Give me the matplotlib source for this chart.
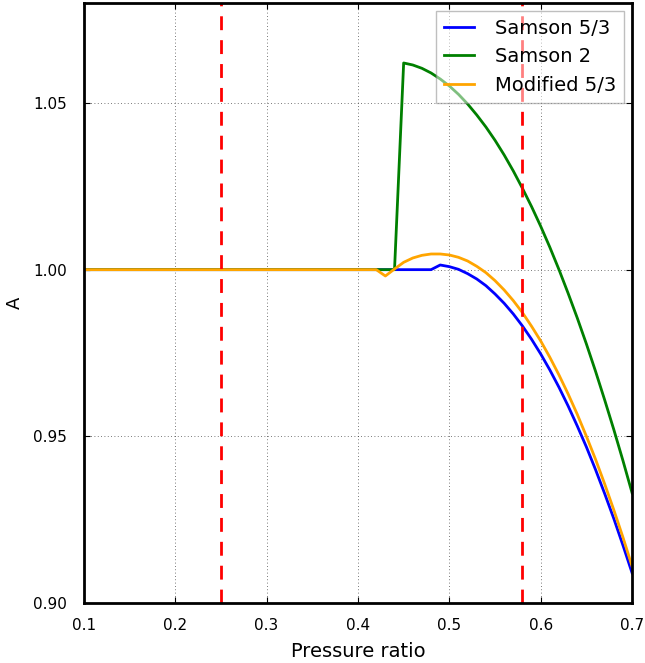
import matplotlib
matplotlib.use("Agg")
import matplotlib.pyplot as plt

# pressure ratio samples (flat region before 0.42 needs no extra points)
pressure_ratio = [0.10, 0.42, 0.43, 0.44, 0.45, 0.46, 0.47, 0.48, 0.49, 0.50,
                  0.51, 0.52, 0.53, 0.54, 0.55, 0.56, 0.57, 0.58, 0.59, 0.60,
                  0.61, 0.62, 0.63, 0.64, 0.65, 0.66, 0.67, 0.68, 0.69, 0.70]

samson_53 = [1.0000, 1.0000, 1.0000, 1.0000, 1.0000, 1.0000, 1.0000, 1.0000, 1.0014, 1.0009,
             1.0001, 0.9988, 0.9972, 0.9952, 0.9927, 0.9899, 0.9867, 0.9831, 0.9791, 0.9747,
             0.9699, 0.9647, 0.9591, 0.9531, 0.9468, 0.9400, 0.9328, 0.9253, 0.9173, 0.9090]

samson_2 = [1.0000, 1.0000, 1.0000, 1.0000, 1.0620, 1.0614, 1.0604, 1.0590, 1.0572, 1.0551,
            1.0526, 1.0497, 1.0464, 1.0428, 1.0388, 1.0344, 1.0296, 1.0244, 1.0189, 1.0130,
            1.0067, 1.0000, 0.9929, 0.9855, 0.9777, 0.9695, 0.9609, 0.9520, 0.9427, 0.9330]

modified_53 = [1.0000, 1.0000, 0.9981, 1.0002, 1.0022, 1.0035, 1.0043, 1.0047, 1.0047, 1.0044,
               1.0037, 1.0026, 1.0010, 0.9991, 0.9967, 0.9939, 0.9907, 0.9871, 0.9830, 0.9786,
               0.9737, 0.9684, 0.9627, 0.9566, 0.9500, 0.9431, 0.9357, 0.9279, 0.9197, 0.9110]

critical_ratios = [0.25, 0.58]

fig = plt.figure(figsize=(6.45, 6.63), dpi=100)
ax = fig.add_axes([0.130, 0.0905, 0.850, 0.905])

ax.plot(pressure_ratio, samson_53, color="blue", linewidth=2, label="Samson 5/3")
ax.plot(pressure_ratio, samson_2, color="green", linewidth=2, label="Samson 2")
ax.plot(pressure_ratio, modified_53, color="orange", linewidth=2, label="Modified 5/3")

for pr in critical_ratios:
    ax.axvline(pr, color="red", linewidth=2, linestyle=(0, (5, 3.6)))

ax.set_xlim(0.1, 0.7)
ax.set_ylim(0.90, 1.08)
ax.set_xticks([0.1, 0.2, 0.3, 0.4, 0.5, 0.6, 0.7])
ax.set_yticks([0.90, 0.95, 1.00, 1.05])
ax.set_yticklabels(["0.90", "0.95", "1.00", "1.05"])
ax.tick_params(direction="in", top=True, right=True, length=4, labelsize=11)
ax.tick_params(axis="y", pad=12)
ax.tick_params(axis="x", pad=11)
ax.grid(True, color="black", linestyle=(0, (1, 3)), linewidth=0.6, alpha=0.7)
for sp in ax.spines.values():
    sp.set_linewidth(2)

ax.set_xlabel("Pressure ratio", fontsize=14, labelpad=6)
ax.set_ylabel("A", fontsize=13, labelpad=7)

leg = ax.legend(loc="upper right", fontsize=14, fancybox=False, framealpha=0.5,
                edgecolor="gray", handlelength=1.55, handletextpad=1.1,
                borderaxespad=0.4)
leg.get_frame().set_linewidth(1)

fig.savefig("out.png", dpi=100)
